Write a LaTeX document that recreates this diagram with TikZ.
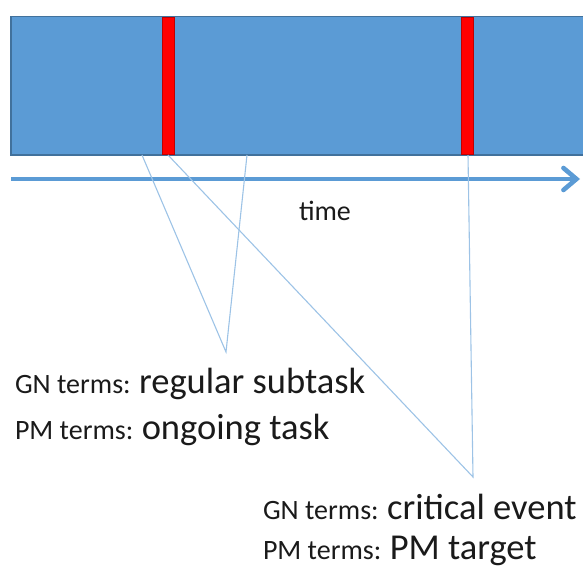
\documentclass[tikz,border=0pt]{standalone}
\usepackage{fontspec}
\setmainfont{Carlito}
\usetikzlibrary{arrows.meta}
\definecolor{barblue}{HTML}{5B9BD5}
\definecolor{bardark}{HTML}{41719C}
\definecolor{thinblue}{HTML}{9DC3E6}
\definecolor{evred}{HTML}{FF0000}
\definecolor{txt}{HTML}{1A1A1A}
\tikzset{
  small/.style={font=\fontsize{28}{34}\selectfont},
  lbl/.style={anchor=base west, inner sep=0pt, outer sep=0pt, text=txt},
  pointer/.style={draw=thinblue, line width=1.1pt},
  eventbar/.style={fill=evred, draw=evred!75!black, line width=0.8pt},
}
\newcommand{\smalltxt}{\fontsize{28}{34}\selectfont}
\newcommand{\bigtxt}{\fontsize{36.5}{44}\selectfont}
\begin{document}
\begin{tikzpicture}[x=1pt,y=-1pt]
\useasboundingbox (0,0) rectangle (583,568);
\clip (0,0) rectangle (583,568);
% timeline bar
\fill[barblue] (11,16.5) rectangle (590,155);
\draw[bardark, line width=1.6pt] (590,16.5) -- (11,16.5) -- (11,155) -- (590,155);
% red events
\draw[eventbar] (162,17.3) rectangle (174,154.2);
\draw[eventbar] (461,17.3) rectangle (473,154.2);
% time arrow
\coordinate (tstart) at (11,179);
\coordinate (tend) at (580,179);
\draw[barblue, line width=4.6pt, -{Straight Barb[length=13pt,width=22pt,line cap=round]}] (tstart) -- (tend);
\node[lbl, small] (time) at (299,220) {time};
% pointer coordinates
\coordinate (a1) at (142,155);
\coordinate (a2) at (247,155);
\coordinate (apexA) at (226,352);
\coordinate (b1) at (168,155);
\coordinate (b2) at (468,155);
\coordinate (apexB) at (473,477);
\draw[pointer] (a1) -- (apexA) -- (a2);
\draw[pointer] (b1) -- (apexB) -- (b2);
% labels
\node[lbl] (gn1) at (15,393) {\smalltxt GN terms: \bigtxt regular subtask};
\node[lbl] (pm1) at (15,439) {\smalltxt PM terms: \bigtxt ongoing task};
\node[lbl] (gn2) at (263,519) {\smalltxt GN terms: \bigtxt critical event};
\node[lbl] (pm2) at (263,559) {\smalltxt PM terms: \bigtxt PM target};
\end{tikzpicture}
\end{document}
